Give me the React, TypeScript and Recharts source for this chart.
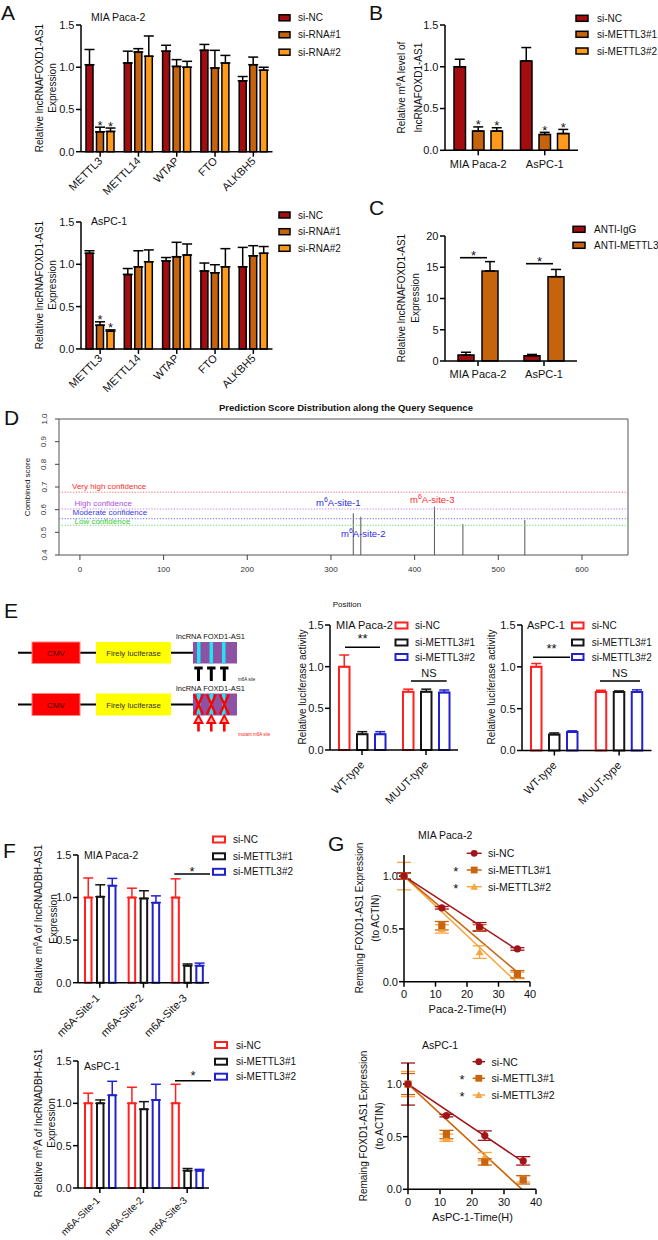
import React from 'react';
import {
  BarChart, Bar, XAxis, YAxis, ErrorBar, LabelList,
  ComposedChart, Line, Scatter, ReferenceLine, ReferenceArea,
} from 'recharts';

const FONT = '"Liberation Sans", Arial, Helvetica, sans-serif';

// ---------- colours ----------
const NC_FILL = '#a30d10';
const S1_FILL = '#c5640d';
const S2_FILL = '#ff9a1c';
const OPEN_RED = '#ff2020';
const OPEN_BLACK = '#151515';
const OPEN_BLUE = '#2222cc';
const G_NC = '#a0141a';
const G_S1 = '#c9650f';
const G_S2 = '#f6a640';

// ---------- Panel A ----------
const writerGenes = ['METTL3', 'METTL14', 'WTAP', 'FTO', 'ALKBH5'];
const siRnaLegend = ['si-NC', 'si-RNA#1', 'si-RNA#2'];
const aMiaNC = [1.03, 1.05, 1.19, 1.2, 0.84];
const aMiaNCsd = [0.18, 0.14, 0.07, 0.07, 0.05];
const aMiaS1 = [0.235, 1.18, 1.01, 0.99, 1.03];
const aMiaS1sd = [0.055, 0.04, 0.08, 0.21, 0.09];
const aMiaS2 = [0.24, 1.13, 1.0, 1.05, 0.965];
const aMiaS2sd = [0.04, 0.24, 0.07, 0.09, 0.035];
const aAspNC = [1.13, 0.88, 1.04, 0.92, 0.97];
const aAspNCsd = [0.03, 0.07, 0.04, 0.095, 0.23];
const aAspS1 = [0.28, 0.97, 1.09, 0.9, 1.1];
const aAspS1sd = [0.04, 0.19, 0.17, 0.095, 0.12];
const aAspS2 = [0.21, 1.03, 1.11, 0.97, 1.13];
const aAspS2sd = [0.015, 0.14, 0.13, 0.215, 0.08];
const aStars = ['*', '', '', '', ''];

// ---------- Panel B ----------
const cellLines = ['MIA Paca-2', 'AsPC-1'];
const mettl3Legend = ['si-NC', 'si-METTL3#1', 'si-METTL3#2'];
const bNC = [1.0, 1.07];
const bNCsd = [0.09, 0.16];
const bS1 = [0.23, 0.19];
const bS1sd = [0.05, 0.025];
const bS2 = [0.23, 0.2];
const bS2sd = [0.04, 0.05];
const bStars = ['*', '*'];

// ---------- Panel C ----------
const ripLegend = ['ANTI-IgG', 'ANTI-METTL3'];
const cIgG = [0.95, 0.85];
const cIgGsd = [0.45, 0.2];
const cMettl3 = [14.4, 13.5];
const cMettl3sd = [1.5, 1.15];

// ---------- Panel D ----------
const sitePositions = [327, 336, 424, 458, 532];
const siteScores = [0.584, 0.569, 0.613, 0.537, 0.554];
const confNames = ['Very high confidence', 'High confidence', 'Moderate confidence', 'Low confidence'];
const confThresholds = [0.677, 0.603, 0.56, 0.531];
const confColors = ['#ff6b6b', '#c47bf0', '#6a6af5', '#66dd66'];
const confTextColors = ['#ff2a2a', '#b04ce0', '#3a3ae0', '#33cc33'];
const posTicks = [0, 100, 200, 300, 400, 500, 600];
const scoreTicks = [0.4, 0.5, 0.6, 0.7, 0.8, 0.9, 1.0];

// ---------- Panel E ----------
const constructs = ['WT-type', 'MUUT-type'];
const eMiaNC = [1.0, 0.7];
const eMiaNCsd = [0.14, 0.03];
const eMiaS1 = [0.19, 0.7];
const eMiaS1sd = [0.03, 0.03];
const eMiaS2 = [0.19, 0.69];
const eMiaS2sd = [0.03, 0.03];
const eAspNC = [1.0, 0.7];
const eAspNCsd = [0.04, 0.02];
const eAspS1 = [0.19, 0.7];
const eAspS1sd = [0.02, 0.012];
const eAspS2 = [0.22, 0.7];
const eAspS2sd = [0.015, 0.025];

// ---------- Panel F ----------
const m6aSites = ['m6A-Site-1', 'm6A-Site-2', 'm6A-Site-3'];
const fMiaNC = [1.0, 1.0, 1.0];
const fMiaNCsd = [0.23, 0.11, 0.22];
const fMiaS1 = [1.01, 0.99, 0.2];
const fMiaS1sd = [0.14, 0.09, 0.02];
const fMiaS2 = [1.14, 0.94, 0.2];
const fMiaS2sd = [0.085, 0.08, 0.03];
const fAspNC = [1.0, 1.0, 1.0];
const fAspNCsd = [0.12, 0.19, 0.225];
const fAspS1 = [1.0, 0.93, 0.205];
const fAspS1sd = [0.04, 0.09, 0.025];
const fAspS2 = [1.095, 1.04, 0.205];
const fAspS2sd = [0.165, 0.185, 0.015];

// ---------- Panel G ----------
const hours = [0, 12, 24, 36];
const gMiaNC = [1.0, 0.7, 0.52, 0.31];
const gMiaNCsd = [0.03, 0.012, 0.04, 0.012];
const gMiaS1 = [1.0, 0.53, 0.51, 0.07];
const gMiaS1sd = [0.03, 0.04, 0.03, 0.035];
const gMiaS2 = [1.0, 0.5, 0.28, 0.06];
const gMiaS2sd = [0.13, 0.04, 0.06, 0.03];
const gAspNC = [1.0, 0.7, 0.51, 0.27];
const gAspNCsd = [0.2, 0.012, 0.045, 0.04];
const gAspS1 = [1.0, 0.52, 0.26, 0.09];
const gAspS1sd = [0.1, 0.04, 0.03, 0.04];
const gAspS2 = [1.0, 0.49, 0.31, 0.1];
const gAspS2sd = [0.12, 0.035, 0.04, 0.03];
const fitHours = [0, 36];
const fitHoursSteep = [0, 35.6];
const gMiaFitNC = [1.0, 0.3];
const gMiaFitS1 = [1.0, 0.09];
const gMiaFitS2 = [1.0, 0.0];
const gAspFitNC = [1.0, 0.26];
const gAspFitS1 = [1.0, 0.0];
const gAspFitS2 = [1.0, 0.0];

// =====================================================================
const axisStyle = { stroke: '#000', strokeWidth: 1.5 };

function starLabel(p: any, pxPerUnit: number) {
  if (!p || !p.value) return null;
  const vb = p.viewBox || p;
  const sd = parseFloat(p.value);
  const cx = vb.x + vb.width / 2;
  const top = vb.y - sd * pxPerUnit;
  return (
    <text x={cx} y={top + 2.5} textAnchor="middle" fontSize={13} fontFamily={FONT} fill="#111">*</text>
  );
}

function PrismBars(props: any) {
  const { box, cats, series, hollow, domain, ticks, decimals, barSize, barGap, rotate, tickDx, tickDy, flatMargin, xh, labelSize } = props;
  const [x0, y0, x1, y1] = box;
  const yw = 40, mt = 14, mr = 6;
  const xH = xh || 60;
  const lSize = labelSize || 11;
  const width = x1 - x0 + yw + mr;
  const height = y1 - y0 + mt + xH;
  const pxPerUnit = (y1 - y0) / (domain[1] - domain[0]);
  const data = cats.map((c: string, i: number) => {
    const row: any = { cat: c };
    series.forEach((s: any, k: number) => {
      row['v' + k] = s.values[i];
      row['e' + k] = [0, s.sd[i]];
      row['s' + k] = s.stars && s.stars[i] ? String(s.sd[i]) : '';
    });
    return row;
  });
  const rotTick = (p: any) => {
    const px = p.x + tickDx;
    const py = p.y + tickDy;
    return (
      <text x={px} y={py} transform={`rotate(-45 ${px} ${py})`} textAnchor="end" fontSize={lSize} fill="#111" fontFamily={FONT}>
        {p.payload.value}
      </text>
    );
  };
  return (
    <div style={{ position: 'absolute', left: x0 - yw, top: y0 - mt }}>
      <BarChart width={width} height={height} data={data} margin={{ top: mt, right: mr, bottom: 0, left: 0 }} barGap={barGap} barCategoryGap={0}>
        <XAxis
          dataKey="cat"
          height={xH}
          interval={0}
          tickSize={5}
          tickMargin={rotate ? 2 : flatMargin}
          axisLine={axisStyle}
          tickLine={axisStyle}
          tick={rotate ? rotTick : { fontSize: 11, fill: '#111', fontFamily: FONT }}
        />
        <YAxis
          width={yw}
          type="number"
          domain={domain}
          ticks={ticks}
          interval={0}
          tickSize={5}
          tickMargin={1.5}
          tickFormatter={(v: number) => v.toFixed(decimals)}
          axisLine={axisStyle}
          tickLine={axisStyle}
          tick={{ fontSize: 11, fill: '#111', fontFamily: FONT }}
        />
        {series.map((s: any, k: number) => (
          <Bar
            key={k}
            dataKey={'v' + k}
            barSize={barSize}
            fill={hollow ? '#ffffff' : s.color}
            stroke={hollow ? s.color : '#000'}
            strokeWidth={hollow ? 2 : 1.5}
            isAnimationActive={false}
          >
            <ErrorBar dataKey={'e' + k} direction="y" width={5} stroke={hollow ? s.color : '#000'} strokeWidth={1.5} />
            <LabelList dataKey={'s' + k} content={(p: any) => starLabel(p, pxPerUnit)} />
          </Bar>
        ))}
      </BarChart>
    </div>
  );
}

function ScoreChart() {
  const x0 = 59, y0 = 419, x1 = 628, y1 = 555;
  const yw = 30, mt = 12, mr = 6, xh = 30;
  const data = sitePositions.map((p, i) => ({ pos: p, score: siteScores[i] }));
  const dTick = (p: any) => (
    <text x={p.x} y={p.y} transform={`rotate(-90 ${p.x} ${p.y})`} textAnchor="middle" fontSize={8} fill="#333" fontFamily={FONT}>
      {Number(p.payload.value).toFixed(1)}
    </text>
  );
  return (
    <div style={{ position: 'absolute', left: x0 - yw, top: y0 - mt }}>
      <ComposedChart width={x1 - x0 + yw + mr} height={y1 - y0 + mt + xh} data={data} margin={{ top: mt, right: mr, bottom: 0, left: 0 }}>
        <XAxis type="number" dataKey="pos" domain={[-25, 655]} allowDataOverflow ticks={posTicks} interval={0} height={xh}
          axisLine={false} tickSize={5} tickMargin={6.5} tickLine={{ stroke: '#444' }}
          tick={{ fontSize: 8, fill: '#333', fontFamily: FONT }} />
        <YAxis type="number" domain={[0.4, 1]} allowDataOverflow ticks={scoreTicks} interval={0} width={yw}
          axisLine={false} tickSize={4} tickMargin={8.5} tickLine={{ stroke: '#444' }} tick={dTick} />
        <ReferenceArea x1={-25} x2={655} y1={0.4} y2={1} fill="none" fillOpacity={0} stroke="#555" strokeWidth={1} ifOverflow="visible" />
        {confThresholds.map((t, i) => (
          <ReferenceLine key={i} y={t} stroke={confColors[i]} strokeDasharray="1.2 1.6" strokeWidth={1} />
        ))}
        <Bar dataKey="score" barSize={1} fill="#555" isAnimationActive={false} />
      </ComposedChart>
    </div>
  );
}

const circleShape = (color: string) => (p: any) => <circle cx={p.cx} cy={p.cy} r={3.6} fill={color} />;
const squareShape = (color: string) => (p: any) => <rect x={p.cx - 3.6} y={p.cy - 3.6} width={7.2} height={7.2} fill={color} />;
const triShape = (color: string) => (p: any) => (
  <polygon points={`${p.cx - 4},${p.cy + 3.2} ${p.cx + 4},${p.cy + 3.2} ${p.cx},${p.cy - 4}`} fill={color} />
);

function DecayChart(props: any) {
  const { box, series, fits } = props;
  const [x0, y0, x1, y1] = box;
  const yw = 40, mt = 6, mr = 10, xh = 28;
  return (
    <div style={{ position: 'absolute', left: x0 - yw, top: y0 - mt }}>
      <ComposedChart width={x1 - x0 + yw + mr} height={y1 - y0 + mt + xh} margin={{ top: mt, right: mr, bottom: 0, left: 0 }}>
        <XAxis type="number" dataKey="t" domain={[0, 40]} ticks={[0, 10, 20, 30, 40]} interval={0} height={xh}
          tickSize={5} tickMargin={3.5} axisLine={axisStyle} tickLine={axisStyle}
          tick={{ fontSize: 11, fill: '#111', fontFamily: FONT }} />
        <YAxis type="number" dataKey="v" domain={[0, 1.2]} ticks={[0, 0.5, 1]} interval={0} width={yw}
          tickSize={5} tickMargin={1} axisLine={axisStyle} tickLine={axisStyle}
          tickFormatter={(v: number) => v.toFixed(1)}
          tick={{ fontSize: 11, fill: '#111', fontFamily: FONT }} />
        {fits.map((f: any, i: number) => (
          <Line key={'f' + i} data={f.data} dataKey="v" stroke={f.color} strokeWidth={1.5} dot={false} isAnimationActive={false} />
        ))}
        {series.map((s: any, i: number) => (
          <Scatter key={'s' + i} data={s.data} dataKey="v" fill={s.color} shape={s.shape} isAnimationActive={false}>
            <ErrorBar dataKey="e" direction="y" width={7} stroke={s.color} strokeWidth={1.3} />
          </Scatter>
        ))}
      </ComposedChart>
    </div>
  );
}

const pts = (vals: number[], sds: number[]) => hours.map((t, i) => ({ t, v: vals[i], e: sds[i] }));
const fit = (ts: number[], vals: number[]) => ts.map((t, i) => ({ t, v: vals[i] }));

// ---------- overlay helpers ----------
function T(props: any) {
  const { x, y, size = 10, anchor = 'start', fill = '#111', weight = 'normal', children } = props;
  return (
    <text x={x} y={y} fontSize={size} textAnchor={anchor} fill={fill} fontWeight={weight} fontFamily={FONT}>{children}</text>
  );
}
function VLabel(props: any) {
  const { x, y, size = 10, children } = props;
  return (
    <text x={x} y={y} transform={`rotate(-90 ${x} ${y})`} textAnchor="middle" fontSize={size} fill="#111" fontFamily={FONT}>{children}</text>
  );
}
function BoxKey(props: any) {
  const { x, w, cy, color, hollow, label, tx } = props;
  return (
    <g>
      <rect x={x} y={cy - 3} width={w} height={6} fill={hollow ? '#fff' : color} stroke={hollow ? color : '#000'} strokeWidth={hollow ? 2 : 1.5} />
      <text x={tx} y={cy + 3.6} fontSize={10} fill="#111" fontFamily={FONT}>{label}</text>
    </g>
  );
}
function LineKey(props: any) {
  const { x0, x1, cy, color, shape, label, tx, star, sx } = props;
  const cx = (x0 + x1) / 2;
  let marker = null;
  if (shape === 'circle') marker = <circle cx={cx} cy={cy} r={3.4} fill={color} />;
  if (shape === 'square') marker = <rect x={cx - 3.4} y={cy - 3.4} width={6.8} height={6.8} fill={color} />;
  if (shape === 'tri') marker = <polygon points={`${cx - 3.8},${cy + 3} ${cx + 3.8},${cy + 3} ${cx},${cy - 3.8}`} fill={color} />;
  return (
    <g>
      <line x1={x0} x2={x1} y1={cy} y2={cy} stroke={color} strokeWidth={1.5} />
      {marker}
      <text x={tx} y={cy + 3.8} fontSize={10.5} fill="#111" fontFamily={FONT}>{label}</text>
      {star ? <text x={sx} y={cy + 6} fontSize={13} textAnchor="middle" fill="#111" fontFamily={FONT}>*</text> : null}
    </g>
  );
}
function Sig(props: any) {
  const { x1, x2, y, label, ly, size = 13 } = props;
  return (
    <g>
      <line x1={x1} x2={x2} y1={y} y2={y} stroke="#000" strokeWidth={1.6} />
      <text x={(x1 + x2) / 2} y={ly} fontSize={size} textAnchor="middle" fill="#111" fontFamily={FONT}>{label}</text>
    </g>
  );
}
const sup6 = (before: string, after: string) => [
  <tspan key="a">{before}</tspan>,
  <tspan key="b" fontSize={7} dy={-4}>6</tspan>,
  <tspan key="c" dy={4}>{after}</tspan>,
];

function Construct(props: any) {
  const { top, bottom, mutant } = props;
  const cy = (top + bottom) / 2;
  const h = bottom - top;
  const stripes = [197, 209.5, 222];
  const marks = [198.5, 211.3, 224.3];
  return (
    <g>
      <line x1={18} x2={193} y1={cy} y2={cy} stroke="#000" strokeWidth={2.2} />
      <rect x={32} y={top} width={48} height={h} fill="#ff0000" stroke="#ff8080" strokeWidth={1} />
      <text x={56} y={cy + 3} fontSize={8} textAnchor="middle" fill="#4a0000" fontFamily={FONT}>CMV</text>
      <rect x={96} y={top} width={75} height={h} fill="#ffff00" />
      <text x={133.5} y={cy + 3} fontSize={7.8} textAnchor="middle" fill="#333" fontFamily={FONT}>Firely luciferase</text>
      <rect x={193} y={top} width={44} height={h} fill="#8d52a3" />
      {stripes.map((sx, i) => <rect key={i} x={sx} y={top} width={3.5} height={h} fill="#21e3f2" />)}
      <text x={210.5} y={top - 3} fontSize={7.5} textAnchor="middle" fill="#111" fontFamily={FONT}>lncRNA FOXD1-AS1</text>
      {!mutant && marks.map((mx, i) => (
        <path key={i} d={`M${mx - 4.2} ${bottom + 4.5} H${mx + 4.2} M${mx} ${bottom + 4.5} V${bottom + 17.5}`} stroke="#000" strokeWidth={3} fill="none" />
      ))}
      {!mutant && (
        <text x={238} y={bottom + 17.5} fontSize={4.5} fill="#222" fontFamily={FONT}>m6A site</text>
      )}
      {mutant && marks.map((mx, i) => (
        <g key={i}>
          <path d={`M${mx - 4.5} ${top + 1} L${mx + 4.5} ${bottom - 1} M${mx + 4.5} ${top + 1} L${mx - 4.5} ${bottom - 1}`} stroke="#ff0000" strokeWidth={2.4} fill="none" />
          <polygon points={`${mx - 4},${bottom + 7.5} ${mx},${bottom} ${mx + 4},${bottom + 7.5}`} fill="#ffb0b0" stroke="#ff0000" strokeWidth={1.8} />
          <line x1={mx} x2={mx} y1={bottom + 7.5} y2={bottom + 16} stroke="#ff0000" strokeWidth={2.6} />
        </g>
      ))}
      {mutant && (
        <text x={238} y={bottom + 20} fontSize={4.5} fill="#ff2222" fontFamily={FONT}>mutant m6A site</text>
      )}
    </g>
  );
}

function Overlay() {
  return (
    <svg width={658} height={1240} style={{ position: 'absolute', left: 0, top: 0, pointerEvents: 'none' }}>
      {/* panel letters */}
      <T x={1} y={20} size={21}>A</T>
      <T x={369} y={19.5} size={21}>B</T>
      <T x={369} y={215} size={21}>C</T>
      <T x={4} y={425} size={21}>D</T>
      <T x={4} y={618} size={21}>E</T>
      <T x={3} y={858} size={21}>F</T>
      <T x={328} y={851} size={21}>G</T>

      {/* A */}
      <T x={91} y={20.5} size={10.5}>MIA Paca-2</T>
      <T x={91} y={224.5} size={10.5}>AsPC-1</T>
      {siRnaLegend.map((l, i) => (
        <BoxKey key={'a1' + i} x={279} w={11} cy={[17.8, 34.8, 52.2][i]} color={[NC_FILL, S1_FILL, S2_FILL][i]} label={l} tx={298} />
      ))}
      {siRnaLegend.map((l, i) => (
        <BoxKey key={'a2' + i} x={279} w={11} cy={[215, 231.7, 248.3][i]} color={[NC_FILL, S1_FILL, S2_FILL][i]} label={l} tx={298} />
      ))}
      <VLabel x={43} y={88}>Relative lncRNAFOXD1-AS1</VLabel>
      <VLabel x={56} y={88}>Expression</VLabel>
      <VLabel x={43} y={285}>Relative lncRNAFOXD1-AS1</VLabel>
      <VLabel x={56} y={285}>Expression</VLabel>

      {/* B */}
      {mettl3Legend.map((l, i) => (
        <BoxKey key={'b' + i} x={576} w={12} cy={[18.3, 34.3, 51][i]} color={[NC_FILL, S1_FILL, S2_FILL][i]} label={l} tx={597} />
      ))}
      <VLabel x={405} y={87.5}>{sup6('Relative m', 'A level of')}</VLabel>
      <VLabel x={422} y={87.5}>lncRNAFOXD1-AS1</VLabel>

      {/* C */}
      {ripLegend.map((l, i) => (
        <BoxKey key={'c' + i} x={573} w={12} cy={[229.3, 245.3][i]} color={[NC_FILL, S1_FILL][i]} label={l} tx={594} />
      ))}
      <VLabel x={405} y={298}>Relative lncRNAFOXD1-AS1</VLabel>
      <VLabel x={418.5} y={298}>Expression</VLabel>
      <Sig x1={460} x2={487} y={257.7} ly={260} label="*" />
      <Sig x1={526} x2={553} y={263.7} ly={266} label="*" />

      {/* D */}
      <T x={346} y={411} size={9.5} anchor="middle" weight="bold">Prediction Score Distribution along the Query Sequence</T>
      <VLabel x={29.5} y={487} size={8}>Combined score</VLabel>
      <T x={347} y={607} size={8} anchor="middle">Position</T>
      {confNames.map((n, i) => (
        <T key={'cf' + i} x={[72, 74.5, 72.5, 74.5][i]} y={[489, 505.5, 514.5, 523.5][i]} size={8} fill={confTextColors[i]}>{n}</T>
      ))}
      <text x={316} y={506} fontSize={9.5} fill="#2a2ae6" fontFamily={FONT}>{sup6('m', 'A-site-1')}</text>
      <text x={341} y={537} fontSize={9.5} fill="#2a2ae6" fontFamily={FONT}>{sup6('m', 'A-site-2')}</text>
      <text x={410} y={503} fontSize={9.5} fill="#ff2a2a" fontFamily={FONT}>{sup6('m', 'A-site-3')}</text>

      {/* E diagram */}
      <Construct top={642} bottom={663.5} mutant={false} />
      <Construct top={693.5} bottom={715.5} mutant={true} />

      {/* E charts */}
      <T x={336} y={628.5} size={11}>MIA Paca-2</T>
      <T x={527} y={628.5} size={11}>AsPC-1</T>
      {mettl3Legend.map((l, i) => (
        <BoxKey key={'e1' + i} x={395.5} w={12} cy={[625.5, 642.5, 657][i]} color={[OPEN_RED, OPEN_BLACK, OPEN_BLUE][i]} hollow label={l} tx={415} />
      ))}
      {mettl3Legend.map((l, i) => (
        <BoxKey key={'e2' + i} x={572} w={11.5} cy={[625.5, 642.5, 657][i]} color={[OPEN_RED, OPEN_BLACK, OPEN_BLUE][i]} hollow label={l} tx={591.7} />
      ))}
      <VLabel x={306} y={687}>Relative luciferase activity</VLabel>
      <VLabel x={495} y={687}>Relative luciferase activity</VLabel>
      <Sig x1={345} x2={380} y={647.3} ly={643} label="**" />
      <Sig x1={411} x2={446.7} y={681} ly={677.3} label="NS" size={11} />
      <Sig x1={533} x2={570} y={657.3} ly={653} label="**" />
      <Sig x1={600} x2={640} y={681} ly={677.3} label="NS" size={11} />

      {/* F */}
      <T x={84} y={859} size={10.5}>MIA Paca-2</T>
      <T x={84} y={1070} size={10.5}>AsPC-1</T>
      {mettl3Legend.map((l, i) => (
        <BoxKey key={'f1' + i} x={213} w={12} cy={[839.5, 856.3, 871.8][i]} color={[OPEN_RED, OPEN_BLACK, OPEN_BLUE][i]} hollow label={l} tx={233} />
      ))}
      {mettl3Legend.map((l, i) => (
        <BoxKey key={'f2' + i} x={215} w={12} cy={[1045, 1061.7, 1076.7][i]} color={[OPEN_RED, OPEN_BLACK, OPEN_BLUE][i]} hollow label={l} tx={236} />
      ))}
      <VLabel x={41.7} y={919}>{sup6('Relative m', 'A of lncRNADBH-AS1')}</VLabel>
      <VLabel x={56.7} y={919}>Expression</VLabel>
      <VLabel x={42} y={1123}>{sup6('Relative m', 'A of lncRNADBH-AS1')}</VLabel>
      <VLabel x={55} y={1123}>Expression</VLabel>
      <Sig x1={174.3} x2={210} y={874} ly={876} label="*" />
      <Sig x1={175} x2={211} y={1080.7} ly={1080} label="*" />

      {/* G */}
      <T x={418} y={839} size={10.5}>MIA Paca-2</T>
      <T x={422} y={1049} size={10.5}>AsPC-1</T>
      {mettl3Legend.map((l, i) => (
        <LineKey key={'g1' + i} x0={466.7} x1={481.7} cy={[853.3, 870, 886.7][i]} color={[G_NC, G_S1, G_S2][i]}
          shape={['circle', 'square', 'tri'][i]} label={l} tx={488} star={i > 0} sx={455.7} />
      ))}
      {mettl3Legend.map((l, i) => (
        <LineKey key={'g2' + i} x0={472.6} x1={485} cy={[1061.7, 1078.3, 1095][i]} color={[G_NC, G_S1, G_S2][i]}
          shape={['circle', 'square', 'tri'][i]} label={l} tx={491.6} star={i > 0} sx={462} />
      ))}
      <VLabel x={363} y={918}>Remaing FOXD1-AS1 Expression</VLabel>
      <VLabel x={378.5} y={918}>(to ACTIN)</VLabel>
      <VLabel x={367} y={1126}>Remaing FOXD1-AS1 Expression</VLabel>
      <VLabel x={382.5} y={1126}>(to ACTIN)</VLabel>
      <T x={467.5} y={1013} size={11} anchor="middle">Paca-2-Time(H)</T>
      <T x={472.5} y={1221} size={11} anchor="middle">AsPC-1-Time(H)</T>
    </svg>
  );
}

export default function App() {
  const filled = (vals: number[][], sds: number[][], stars: (string[] | undefined)[]) =>
    vals.map((v, i) => ({ values: v, sd: sds[i], color: [NC_FILL, S1_FILL, S2_FILL][i], stars: stars[i] }));
  const open = (vals: number[][], sds: number[][], stars: (string[] | undefined)[]) =>
    vals.map((v, i) => ({ values: v, sd: sds[i], color: [OPEN_RED, OPEN_BLACK, OPEN_BLUE][i], stars: stars[i] }));

  return (
    <div style={{ position: 'absolute', left: 0, top: 0, width: 658, height: 1240, background: '#fff', overflow: 'hidden', fontFamily: FONT }}>
      {/* A */}
      <PrismBars box={[80.5, 25, 272, 151.7]} cats={writerGenes}
        series={filled([aMiaNC, aMiaS1, aMiaS2], [aMiaNCsd, aMiaS1sd, aMiaS2sd], [undefined, aStars, aStars])}
        domain={[0, 1.5]} ticks={[0, 0.5, 1, 1.5]} decimals={1} barSize={7} barGap={3.5}
        rotate tickDx={3} tickDy={3} />
      <PrismBars box={[80.5, 221.7, 272, 348.6]} cats={writerGenes}
        series={filled([aAspNC, aAspS1, aAspS2], [aAspNCsd, aAspS1sd, aAspS2sd], [undefined, aStars, aStars])}
        domain={[0, 1.5]} ticks={[0, 0.5, 1, 1.5]} decimals={1} barSize={7} barGap={3.5}
        rotate tickDx={3} tickDy={3} />
      {/* B */}
      <PrismBars box={[445, 25, 578, 150.3]} cats={cellLines}
        series={filled([bNC, bS1, bS2], [bNCsd, bS1sd, bS2sd], [undefined, bStars, bStars])}
        domain={[0, 1.5]} ticks={[0, 0.5, 1, 1.5]} decimals={1} barSize={11.5} barGap={7}
        flatMargin={5} xh={30} />
      {/* C */}
      <PrismBars box={[445, 236, 577, 361]} cats={cellLines}
        series={[{ values: cIgG, sd: cIgGsd, color: NC_FILL }, { values: cMettl3, sd: cMettl3sd, color: S1_FILL }]}
        domain={[0, 20]} ticks={[0, 5, 10, 15, 20]} decimals={0} barSize={16} barGap={8}
        flatMargin={4} xh={30} />
      {/* D */}
      <ScoreChart />
      {/* E */}
      <PrismBars box={[330, 625, 458, 750]} cats={constructs} hollow
        series={open([eMiaNC, eMiaS1, eMiaS2], [eMiaNCsd, eMiaS1sd, eMiaS2sd], [undefined, undefined, undefined])}
        domain={[0, 1.5]} ticks={[0, 0.5, 1, 1.5]} decimals={1} barSize={10.5} barGap={7.5}
        rotate tickDx={3} tickDy={8.5} />
      <PrismBars box={[521.5, 624.5, 651, 750]} cats={constructs} hollow
        series={open([eAspNC, eAspS1, eAspS2], [eAspNCsd, eAspS1sd, eAspS2sd], [undefined, undefined, undefined])}
        domain={[0, 1.5]} ticks={[0, 0.5, 1, 1.5]} decimals={1} barSize={10.5} barGap={7.5}
        rotate tickDx={3} tickDy={8.5} />
      {/* F */}
      <PrismBars box={[78, 855, 209, 982.7]} cats={m6aSites} hollow
        series={open([fMiaNC, fMiaS1, fMiaS2], [fMiaNCsd, fMiaS1sd, fMiaS2sd], [undefined, undefined, undefined])}
        domain={[0, 1.5]} ticks={[0, 0.5, 1, 1.5]} decimals={1} barSize={6.5} barGap={5.5}
        rotate tickDx={0.5} tickDy={9} />
      <PrismBars box={[78, 1060.7, 209, 1187.7]} cats={m6aSites} hollow
        series={open([fAspNC, fAspS1, fAspS2], [fAspNCsd, fAspS1sd, fAspS2sd], [undefined, undefined, undefined])}
        domain={[0, 1.5]} ticks={[0, 0.5, 1, 1.5]} decimals={1} barSize={6.5} barGap={5.5}
        rotate tickDx={0.5} tickDy={6} xh={52} labelSize={10} />
      {/* G */}
      <DecayChart box={[404, 855, 530, 981.7]}
        fits={[
          { data: fit(fitHoursSteep, gMiaFitS2), color: G_S2 },
          { data: fit(fitHours, gMiaFitS1), color: G_S1 },
          { data: fit(fitHours, gMiaFitNC), color: G_NC },
        ]}
        series={[
          { data: pts(gMiaS2, gMiaS2sd), color: G_S2, shape: triShape(G_S2) },
          { data: pts(gMiaS1, gMiaS1sd), color: G_S1, shape: squareShape(G_S1) },
          { data: pts(gMiaNC, gMiaNCsd), color: G_NC, shape: circleShape(G_NC) },
        ]} />
      <DecayChart box={[408, 1063, 536, 1189.3]}
        fits={[
          { data: fit(fitHoursSteep, gAspFitS2), color: G_S2 },
          { data: fit(fitHoursSteep, gAspFitS1), color: G_S1 },
          { data: fit(fitHours, gAspFitNC), color: G_NC },
        ]}
        series={[
          { data: pts(gAspS2, gAspS2sd), color: G_S2, shape: triShape(G_S2) },
          { data: pts(gAspS1, gAspS1sd), color: G_S1, shape: squareShape(G_S1) },
          { data: pts(gAspNC, gAspNCsd), color: G_NC, shape: circleShape(G_NC) },
        ]} />
      <Overlay />
    </div>
  );
}
